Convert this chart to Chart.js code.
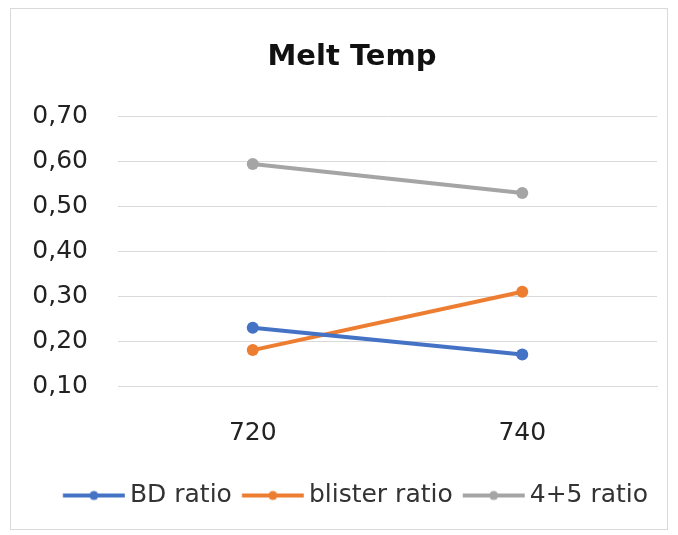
<!DOCTYPE html>
<html>
<head>
<meta charset="utf-8">
<script src="https://cdn.jsdelivr.net/npm/chart.js@4/dist/chart.umd.min.js"></script>
<style>
  html, body { margin: 0; padding: 0; background: #fff; overflow: hidden; }
  #box {
    position: absolute; left: 10px; top: 8px;
    width: 656px; height: 520px;
    border: 1px solid #d9d9d9; background: #fff;
  }
  #meltChart { position: absolute; left: 0; top: 0; }
</style>
</head>
<body>
<div id="box"><canvas id="meltChart" width="682" height="520"></canvas></div>
<script>
const categories = ['720', '740'];
const bdRatio = [0.23, 0.17];
const blisterRatio = [0.18, 0.31];
const fourFiveRatio = [0.595, 0.53];

const seriesNames = ['BD ratio', 'blister ratio', '4+5 ratio'];
const seriesColors = ['#4472c4', '#ed7d31', '#a5a5a5'];

// legend marker: line with a dot in the middle, like Excel
// (canvas is wider than the line so the gaps come out right)
function legendIcon(color) {
  const c = document.createElement('canvas');
  c.width = 77; c.height = 12;
  const g = c.getContext('2d');
  g.strokeStyle = color; g.lineWidth = 4;
  g.beginPath(); g.moveTo(14.75, 6); g.lineTo(76.75, 6); g.stroke();
  g.fillStyle = color;
  g.beginPath(); g.arc(45.75, 6, 4.5, 0, Math.PI * 2); g.fill();
  return c;
}

const font = "'DejaVu Sans', sans-serif";
const ctx = document.getElementById('meltChart').getContext('2d');

const values = [bdRatio, blisterRatio, fourFiveRatio];

new Chart(ctx, {
  type: 'line',
  data: {
    labels: categories,
    datasets: values.map((v, i) => ({
      label: seriesNames[i],
      data: v,
      borderColor: seriesColors[i],
      backgroundColor: seriesColors[i],
      borderWidth: 4,
      pointRadius: 6,
      pointBorderWidth: 0,
      tension: 0,
      yAxisID: 'y'
    }))
  },
  options: {
    responsive: false,
    animation: false,
    layout: { padding: { left: 0, right: 0, top: 0, bottom: 11 } },
    scales: {
      x: {
        offset: true,
        grid: { display: false, drawTicks: false },
        border: { color: '#d9d9d9', width: 1 },
        ticks: { color: '#222', font: { family: font, size: 25 }, padding: 32 }
      },
      y: {
        min: 0.1,
        max: 0.7,
        afterFit: function(scale) { scale.width = 107; },
        grid: { color: '#d9d9d9', drawTicks: false },
        border: { display: false },
        ticks: {
          stepSize: 0.1,
          color: '#222',
          padding: 30,
          font: { family: font, size: 25 },
          callback: function(value) {
            return value.toFixed(2).replace('.', ',');
          }
        }
      },
      // empty right axis, only keeps the plot off the right edge
      // while title and legend still centre on the whole canvas
      yRight: {
        position: 'right',
        afterFit: function(scale) { scale.width = 36; },
        grid: { display: false },
        border: { display: false },
        ticks: { display: false }
      }
    },
    plugins: {
      title: {
        display: true,
        text: 'Melt Temp',
        color: '#111',
        font: { family: font, size: 29, weight: 'bold' },
        padding: { top: 31, bottom: 42 }
      },
      legend: {
        position: 'bottom',
        labels: {
          usePointStyle: true,
          pointStyleWidth: 61.5,
          color: '#333',
          font: { family: font, size: 25 },
          padding: 3,
          generateLabels: function(chart) {
            return chart.data.datasets.map((ds, i) => ({
              text: ds.label,
              fillStyle: ds.borderColor,
              strokeStyle: ds.borderColor,
              fontColor: '#333',
              pointStyle: legendIcon(ds.borderColor),
              datasetIndex: i,
              hidden: false,
              lineWidth: 0
            }));
          }
        }
      },
      tooltip: { enabled: false }
    }
  }
});
</script>
</body>
</html>
